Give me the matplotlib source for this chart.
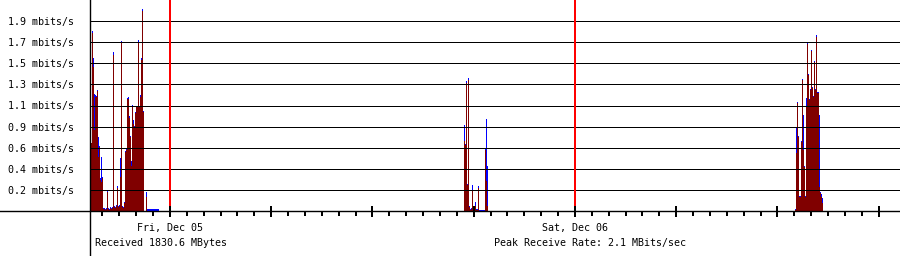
import matplotlib
matplotlib.use("Agg")
import numpy as np
import matplotlib.pyplot as plt
import matplotlib.transforms as mtransforms

# time axis in hours, counted from Fri, Dec 05 00:00
view_start = -4.74
view_end = 43.26
step_h = 24 / 405          # one sample column, ~3.6 min

grid_step = 0.2127         # mbits/s between grid lines
grid_labels = ["0.2", "0.4", "0.6", "0.9", "1.1", "1.3", "1.5", "1.7", "1.9"]

day_marks = [0, 24]
day_labels = ["Fri, Dec 05", "Sat, Dec 06"]
received_text = "Received 1830.6 MBytes"
peak_text = "Peak Receive Rate: 2.1 MBits/sec"

# burst 1: Thu evening
burst1_start = -4.68
burst1_avg = [0.685, 1.79, 1.45, 0.82, 1.15, 1.15, 1.21, 0.54, 0.65, 0.31,
              0.29, 0.33, 0.02, 0.02, 0.01, 0.02, 0.19, 0.02, 0.01, 0.03,
              0.02, 0.03, 1.57, 0.04, 0.03, 0.05, 0.23, 0.04, 0.05, 0.34,
              1.69, 0.04, 0.03, 0.08, 0.59, 0.61, 1.13, 1.13, 0.94, 0.75,
              0.45, 1.06, 0.88, 0.85, 0.99, 1.05, 1.05, 1.70, 1.05, 1.15,
              1.52, 2.02, 1.00, 0.0, 0.0, 0.14, 0.0, 0.0, 0.0, 0.0,
              0.0, 0.0, 0.0, 0.0, 0.0, 0.0, 0.0, 0.0]
burst1_max = [0.69, 1.81, 1.54, 1.18, 1.17, 1.16, 1.22, 0.75, 0.66, 0.33,
              0.54, 0.34, 0.03, 0.03, 0.02, 0.03, 0.21, 0.03, 0.02, 0.04,
              0.03, 0.04, 1.60, 0.05, 0.04, 0.06, 0.25, 0.05, 0.06, 0.53,
              1.71, 0.05, 0.04, 0.09, 0.60, 0.62, 1.14, 1.15, 0.96, 0.76,
              0.50, 1.07, 0.92, 0.86, 1.00, 1.06, 1.06, 1.72, 1.06, 1.17,
              1.54, 2.04, 1.01, 0.0, 0.0, 0.19, 0.02, 0.02, 0.02, 0.02,
              0.02, 0.02, 0.02, 0.02, 0.02, 0.02, 0.02, 0.02]

# burst 2: Fri evening
burst2_start = 17.42
burst2_avg = [0.71, 0.67, 1.29, 0.26, 1.32, 0.04, 0.01, 0.02, 0.21, 0.01,
              0.01, 0.05, 0.01, 0.01, 0.23, 0.0, 0.0, 0.0, 0.0, 0.0,
              0.0, 0.61, 0.30, 0.05]
burst2_max = [0.87, 0.68, 1.31, 0.27, 1.34, 0.05, 0.02, 0.03, 0.26, 0.02,
              0.02, 0.09, 0.02, 0.02, 0.25, 0.015, 0.015, 0.015, 0.015, 0.015,
              0.015, 0.63, 0.93, 0.45]

# burst 3: Sat afternoon
burst3_start = 37.04
burst3_avg = [0.01, 0.58, 1.09, 0.75, 0.14, 0.14, 0.70, 1.32, 0.61, 0.44,
              0.14, 1.05, 1.68, 1.37, 1.12, 1.22, 1.61, 1.24, 1.15, 1.50,
              1.22, 1.75, 1.19, 1.19, 0.24, 0.18, 0.14, 0.08]
burst3_max = [0.02, 0.84, 1.10, 0.76, 0.15, 0.15, 0.71, 1.33, 0.97, 0.45,
              0.15, 1.14, 1.69, 1.38, 1.13, 1.23, 1.62, 1.25, 1.16, 1.51,
              1.23, 1.77, 1.20, 1.20, 0.97, 0.19, 0.17, 0.13]

bursts = [(burst1_start, burst1_avg, burst1_max),
          (burst2_start, burst2_avg, burst2_max),
          (burst3_start, burst3_avg, burst3_max)]

MONO = "DejaVu Sans Mono"
FS = 7.2
PX = 0.72  # one pixel in points at dpi 100

W, H = 900, 256
left_px, base_px = 90, 211

fig = plt.figure(figsize=(W / 100, H / 100), dpi=100, facecolor="white")
ax = fig.add_axes([left_px / W, (H - base_px) / H, (W - left_px) / W, base_px / H])

for start, avg, mx in bursts:
    t = start + np.arange(len(avg)) * step_h
    # slightly wider than a column so neighbours close up without gaps
    ax.bar(t, mx, width=step_h * 1.3, align="edge", color="#0000ff",
           linewidth=0, antialiased=False, zorder=1)
    ax.bar(t, avg, width=step_h * 1.3, align="edge", color="#800000",
           linewidth=0, antialiased=False, zorder=1.1)

ax.set_xlim(view_start, view_end)
ax.set_ylim(0, grid_step * 10)

# horizontal grid with text labels
yvals = [grid_step * (k + 1) for k in range(len(grid_labels))]
ax.set_yticks(yvals, [f"{g} mbits/s" for g in grid_labels])
ax.tick_params(axis="y", length=0, pad=16 * PX, labelsize=FS)
for lbl in ax.get_yticklabels():
    lbl.set_family(MONO)
for y in yvals:
    ax.axhline(y, color="black", lw=PX, zorder=2, antialiased=False)

# hour ticks, long ones every 6 h
ax.set_xticks(np.arange(0, view_end, 6))
ax.set_xticks(np.arange(-4, 43, 1), minor=True)
ax.tick_params(axis="x", which="major", direction="inout", length=11 * PX,
               width=2 * PX, labelbottom=False)
ax.tick_params(axis="x", which="minor", direction="out", length=5 * PX,
               width=2 * PX)

for s in ax.spines.values():
    s.set_visible(False)

# day boundaries
for d in day_marks:
    ax.axvline(d, ymin=6 / base_px, ymax=1, color="#ff0000", lw=2 * PX, zorder=3)

# base line across the full width and the left rule down to the bottom
ax.plot([-left_px / (W - left_px), 1], [0, 0], transform=ax.transAxes,
        color="black", lw=1.4 * PX, clip_on=False, zorder=4)
ax.plot([0, 0], [-(H - base_px) / base_px, 1], transform=ax.transAxes,
        color="black", lw=1.4 * PX, clip_on=False, zorder=4)

trans = mtransforms.blended_transform_factory(ax.transData, fig.transFigure)
for d, lbl in zip(day_marks, day_labels):
    ax.text(d, 1 - 228 / H, lbl, transform=trans, ha="center", va="center",
            family=MONO, fontsize=FS)
fig.text(95 / W, 1 - 243 / H, received_text, ha="left", va="center",
         family=MONO, fontsize=FS)
fig.text(494 / W, 1 - 243 / H, peak_text, ha="left", va="center",
         family=MONO, fontsize=FS)

fig.savefig("out.png", dpi=100, facecolor="white")
